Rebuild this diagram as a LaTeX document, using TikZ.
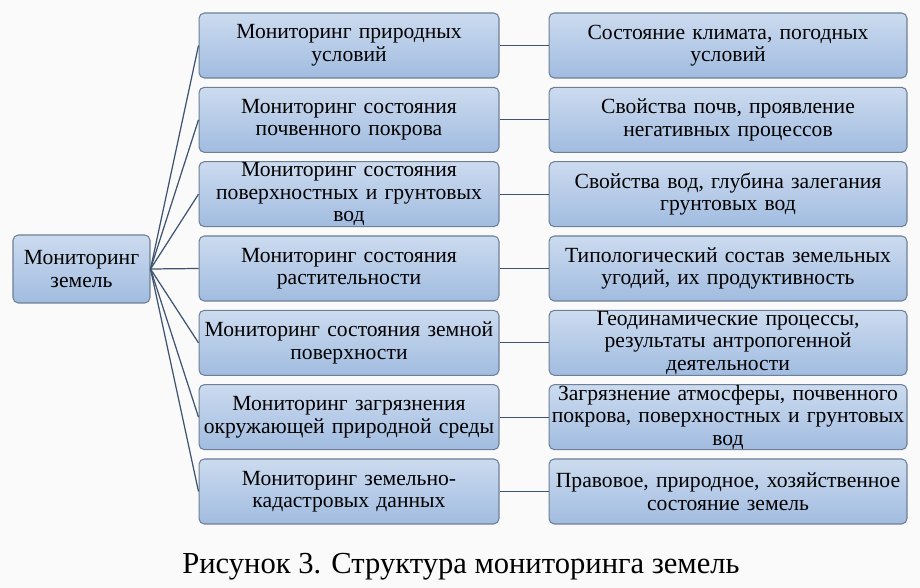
\documentclass[tikz,border=0pt]{standalone}
\usepackage{fontspec}
\setmainfont{Liberation Serif}
\usetikzlibrary{positioning}
\definecolor{BoxTop}{HTML}{CCDBEF}
\definecolor{BoxBot}{HTML}{A1BCE0}
\definecolor{BoxLine}{HTML}{6E7F96}
\definecolor{LinkInk}{HTML}{3E5470}
\definecolor{PageBg}{HTML}{FAFAFA}
\tikzset{
  box/.style={rectangle, rounded corners=3pt, draw=BoxLine, line width=0.6pt,
              top color=BoxTop, bottom color=BoxBot, minimum height=1.3cm,
              inner xsep=0pt, inner ysep=-2pt, align=center,
              font=\fontsize{12.3}{12.8}\selectfont},
  midbox/.style={box, text width=6cm},
  resbox/.style={box, text width=7.16cm},
  link/.style={line width=0.7pt, draw=LinkInk},
  caption/.style={font=\fontsize{17.4}{17.4}\selectfont, anchor=base},
}

\begin{document}
\begin{tikzpicture}[x=0.02cm, y=-0.02cm]
\fill[PageBg] (0,0) rectangle (920,588);
\useasboundingbox (0,0) rectangle (920,588);
% ---------------------------------------------------------------- root
\node[box, text width=2.74cm, minimum height=1.36cm] (root) at (81.5,269) {Мониторинг\\земель};
% ---------------------------------------------------------------- rows
\foreach \i/\mtext/\rtext in {
  1/{Мониторинг природных\\условий}/{Состояние климата, погодных\\условий},
  2/{Мониторинг состояния\\почвенного покрова}/{Свойства почв, проявление\\негативных процессов},
  3/{Мониторинг состояния\\поверхностных и грунтовых\\вод}/{Свойства вод, глубина залегания\\грунтовых вод},
  4/{Мониторинг состояния\\растительности}/{Типологический состав земельных\\угодий, их продуктивность},
  5/{Мониторинг состояния земной\\поверхности}/{Геодинамические процессы,\\результаты антропогенной\\деятельности},
  6/{Мониторинг загрязнения\\\makebox[\linewidth]{окружающей природной среды}}/{Загрязнение атмосферы, почвенного\\\makebox[\linewidth]{покрова, поверхностных и грунтовых}\\вод},
  7/{Мониторинг земельно-\\кадастровых данных}/{\makebox[\linewidth]{Правовое, природное, хозяйственное}\\состояние земель}} {
  \node[midbox] (m\i) at (349,{45.5+74.33*(\i-1)}) {\mtext};
  \node[resbox] (r\i) at (728,{45.5+74.33*(\i-1)}) {\rtext};
  \draw[link] (root.east) -- (m\i.west);
  \draw[link] (m\i.east) -- (r\i.west);
}
% ---------------------------------------------------------------- caption
\node[caption] (cap) at (461,573) {Рисунок 3. Структура мониторинга земель};
\end{tikzpicture}
\end{document}
